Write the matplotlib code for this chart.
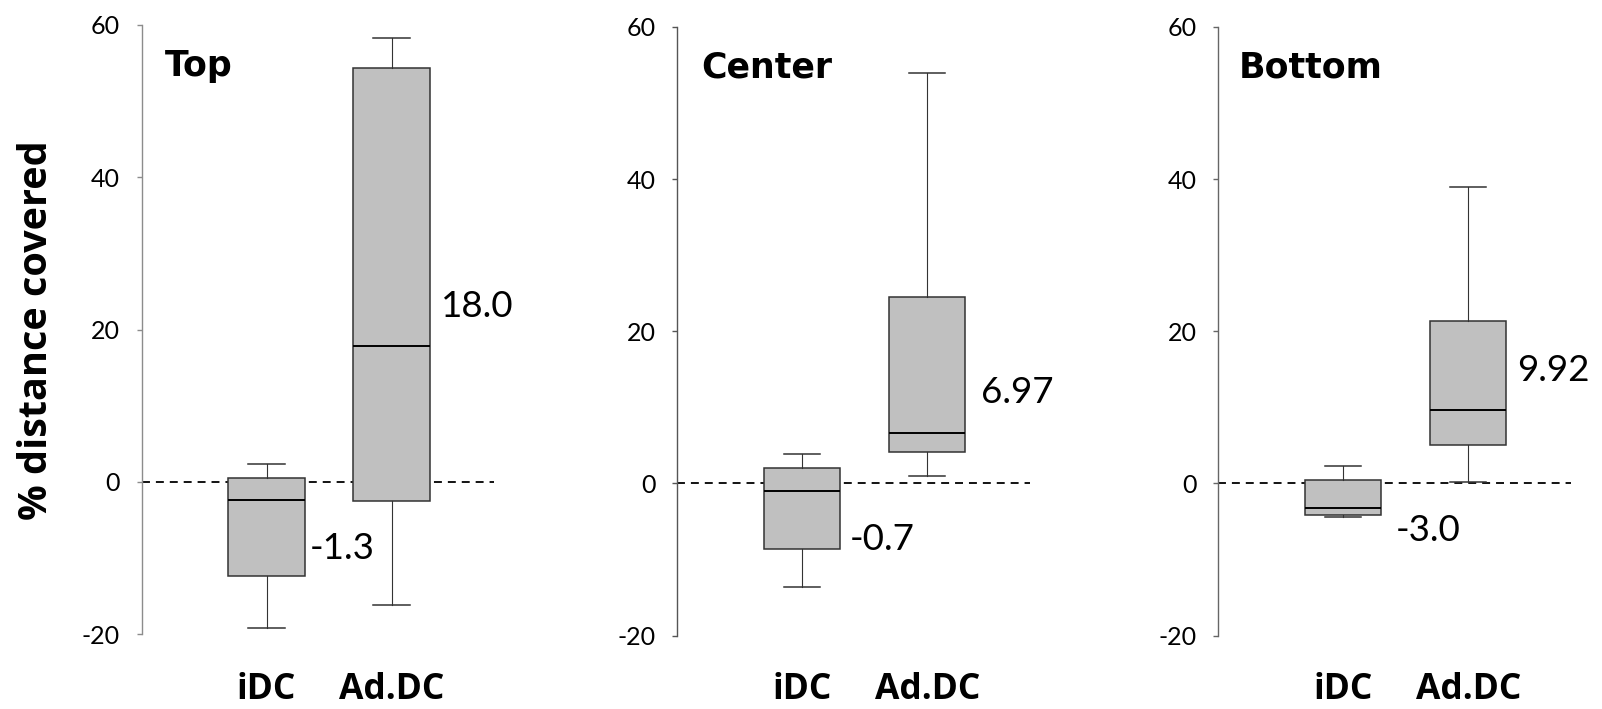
"""Three-panel box plot: % distance covered, iDC vs Ad.DC."""
import matplotlib
matplotlib.use("Agg")
import matplotlib.pyplot as plt
from matplotlib.transforms import blended_transform_factory

# groups and panels
groups = ["iDC", "Ad.DC"]
panels = ["Top", "Center", "Bottom"]

# box stats per panel: [whislo, q1, med, q3, whishi]
top_idc = [-19.2, -12.4, -2.4, 0.45, 2.3]
top_ad = [-16.15, -2.5, 17.8, 54.3, 58.3]
center_idc = [-13.6, -8.6, -1.0, 2.0, 3.8]
center_ad = [1.0, 4.15, 6.65, 24.45, 54.0]
bottom_idc = [-4.45, -4.15, -3.3, 0.5, 2.25]
bottom_ad = [0.15, 5.05, 9.65, 21.35, 38.9]

# printed labels next to the boxes
top_labels = ["-1.3", "18.0"]
center_labels = ["-0.7", "6.97"]
bottom_labels = ["-3.0", "9.92"]

yticks = [-20, 0, 20, 40, 60]

panel_stats = [(top_idc, top_ad), (center_idc, center_ad), (bottom_idc, bottom_ad)]
panel_labels = [top_labels, center_labels, bottom_labels]
# label anchors (x, baseline y) in data coords
label_pos = [
    [(1.35, -10.2), (2.394, 21.7)],
    [(1.38, -8.8), (2.427, 10.6)],
    [(1.416, -7.55), (2.39, 13.4)],
]
title_x = [0.19, 0.19, 0.165]

W, H = 1602, 709
# axes boxes in pixels: left, top, bottom
ax_px = [(141.5, 25, 634), (677.3, 27, 635.5), (1218.3, 27, 635.5)]
spine_cols = ["#8c8c8c", "#555555", "#666666"]
XMAX = 2.82
PX_PER_UNIT = 125

NUM_FONT = "Lato"
TTL_FONT = "DejaVu Sans"
LBL_FONT = "Open Sans"

fig = plt.figure(figsize=(W / 100, H / 100), dpi=100, facecolor="white")

for i, name in enumerate(panels):
    left, top, bot = ax_px[i]
    ax = fig.add_axes([left / W, (H - bot) / H, XMAX * PX_PER_UNIT / W, (bot - top) / H])
    stats = []
    for g, s in zip(groups, panel_stats[i]):
        stats.append(dict(label=g, whislo=s[0], q1=s[1], med=s[2], q3=s[3], whishi=s[4], fliers=[]))
    ax.bxp(stats, positions=[1, 2], widths=0.61, capwidths=0.29, patch_artist=True,
           showfliers=False,
           boxprops=dict(facecolor="#C0C0C0", edgecolor="#333333", linewidth=1.1),
           medianprops=dict(color="black", linewidth=1.4),
           whiskerprops=dict(color="#333333", linewidth=0.8),
           capprops=dict(color="#333333", linewidth=1.1))
    ax.axhline(0, color="black", linewidth=1.3, linestyle=(0, (4.4, 3.3)), zorder=0)

    ax.set_xlim(0, XMAX)
    ax.set_ylim(-20, 60)
    ax.set_yticks(yticks)
    ax.set_yticklabels([str(t) for t in yticks], fontfamily=NUM_FONT, fontsize=18)
    ax.set_xticks([])
    ax.tick_params(axis="y", length=3.6, width=1, color=spine_cols[i], pad=12, direction="out")
    for sp in ["top", "right", "bottom"]:
        ax.spines[sp].set_visible(False)
    ax.spines["left"].set_color(spine_cols[i])
    ax.spines["left"].set_linewidth(1.0)

    # group names under each box
    tr = blended_transform_factory(ax.transData, fig.transFigure)
    for pos, g in zip([1, 2], groups):
        ax.text(pos, 10 / H, g, transform=tr, fontfamily=LBL_FONT, fontsize=25.5,
                fontweight="bold", ha="center", va="baseline")

    ax.text(title_x[i], 53.3, name, fontfamily=TTL_FONT, fontsize=25, fontweight="bold",
            ha="left", va="baseline")
    for (x, y), txt in zip(label_pos[i], panel_labels[i]):
        ax.text(x, y, txt, fontfamily=NUM_FONT, fontsize=26.5, ha="left", va="baseline")

fig.text(37 / W, 1 - 330 / H, "% distance covered", rotation=90,
         fontfamily=LBL_FONT, fontsize=28.5, fontweight="bold", ha="center", va="center")

fig.savefig("out.png", dpi=100, facecolor="white")
plt.close(fig)
